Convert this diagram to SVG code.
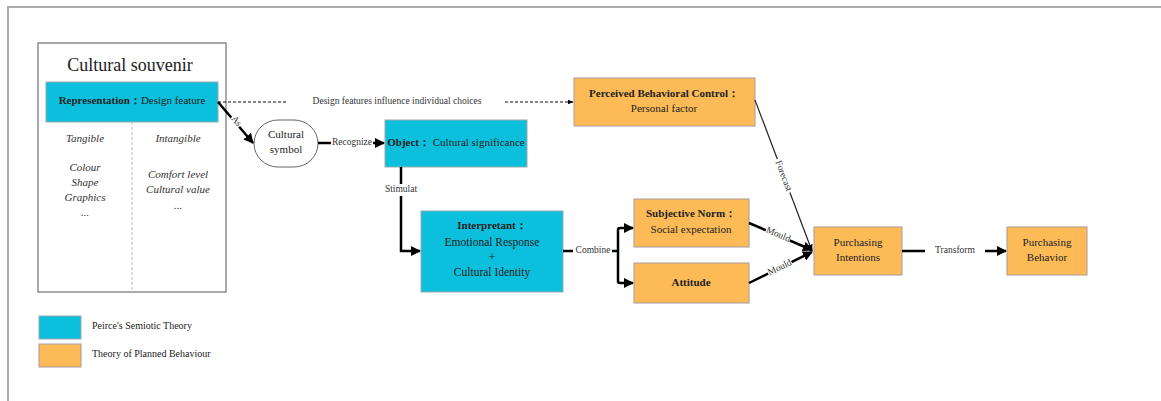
<svg xmlns="http://www.w3.org/2000/svg" width="1161" height="401" viewBox="0 0 1161 401">
<style>
text{font-family:"Liberation Serif","Times New Roman",serif;fill:#222;}
.t{font-size:11px;text-anchor:middle;dominant-baseline:middle;}
.b{font-weight:bold;}
.i{font-style:italic;font-size:11px;text-anchor:middle;dominant-baseline:middle;fill:#333;}
.lbl{font-size:9.5px;text-anchor:middle;dominant-baseline:middle;fill:#333;}
.cy{fill:#0BBFDD;stroke:#9aa;stroke-width:1;}
.or{fill:#FDBB58;stroke:#a99;stroke-width:1;}
.thick{stroke:#000;stroke-width:2.5;fill:none;}
.thin{stroke:#222;stroke-width:1.2;fill:none;}
.dash{stroke:#111;stroke-width:1;stroke-dasharray:3,2;fill:none;}
.bg{fill:#fff;}
</style>
<defs>
<marker id="ah" viewBox="0 0 10 10" refX="9" refY="5" markerWidth="4" markerHeight="4" orient="auto" markerUnits="strokeWidth">
<path d="M0,0 L10,5 L0,10 z" fill="#000"/>
</marker>
<marker id="ahs" viewBox="0 0 10 10" refX="9" refY="5" markerWidth="6" markerHeight="6" orient="auto" markerUnits="strokeWidth">
<path d="M0,1 L10,5 L0,9 z" fill="#000"/>
</marker>
</defs>
<rect width="1161" height="401" fill="#fff"/>
<path d="M8,401 V7 H1161" stroke="#aaa" stroke-width="2" fill="none"/>

<g id="souvenir">
<rect x="38" y="43" width="188" height="249" fill="#fff" stroke="#555" stroke-width="1"/>
<text x="130" y="67" style="font-size:18px;text-anchor:middle;dominant-baseline:middle;">Cultural souvenir</text>
<line x1="132" y1="122" x2="132" y2="292" stroke="#bbb" stroke-width="1" stroke-dasharray="3,2"/>
<text class="i" x="85" y="139">Tangible</text>
<text class="i" x="85" y="168">Colour</text>
<text class="i" x="85" y="183">Shape</text>
<text class="i" x="85" y="198">Graphics</text>
<text class="i" x="85" y="213">...</text>
<text class="i" x="178" y="139">Intangible</text>
<text class="i" x="178" y="175">Comfort level</text>
<text class="i" x="178" y="190">Cultural value</text>
<text class="i" x="178" y="206">...</text>
</g>
<g id="representation">
<rect class="cy" x="46" y="82" width="172" height="40"/>
<text class="t" x="132" y="101"><tspan class="b">Representation：</tspan>Design feature</text>
</g>
<g id="symbol">
<rect x="254" y="120" width="64" height="47" rx="24" ry="23.5" fill="#fff" stroke="#666" stroke-width="1"/>
<text class="t" x="286" y="135">Cultural</text>
<text class="t" x="286" y="150">symbol</text>
</g>
<g id="object">
<rect class="cy" x="385" y="120" width="142" height="47"/>
<text class="t" x="456" y="143"><tspan class="b">Object：</tspan> Cultural significance</text>
</g>
<g id="interpretant">
<rect class="cy" x="421" y="211" width="142" height="81"/>
<text class="t b" x="492" y="226">Interpretant：</text>
<text class="t" x="492" y="243" style="font-size:11.5px">Emotional Response</text>
<text class="t" x="492" y="258" style="font-size:11.5px">+</text>
<text class="t" x="492" y="273" style="font-size:11.5px">Cultural Identity</text>
</g>
<g id="pbc">
<rect class="or" x="574" y="78" width="181" height="48"/>
<text class="t b" x="664" y="94">Perceived Behavioral Control：</text>
<text class="t" x="664" y="109">Personal factor</text>
</g>
<g id="norm">
<rect class="or" x="634" y="199" width="115" height="48"/>
<text class="t b" x="691" y="214">Subjective Norm：</text>
<text class="t" x="691" y="230">Social expectation</text>
</g>
<g id="attitude">
<rect class="or" x="634" y="263" width="115" height="40"/>
<text class="t b" x="691" y="283">Attitude</text>
</g>
<g id="intentions">
<rect class="or" x="814" y="227" width="88" height="48"/>
<text class="t" x="858" y="243">Purchasing</text>
<text class="t" x="858" y="258">Intentions</text>
</g>
<g id="behavior">
<rect class="or" x="1007" y="227" width="80" height="48"/>
<text class="t" x="1047" y="243">Purchasing</text>
<text class="t" x="1047" y="258">Behavior</text>
</g>

<g id="connectors">
<line class="dash" x1="218" y1="102" x2="288" y2="102"/>
<text class="lbl" x="397" y="102">Design features influence individual choices</text>
<line class="dash" x1="505" y1="102" x2="573" y2="102" marker-end="url(#ahs)"/>
<line class="thick" x1="218" y1="102" x2="253" y2="143" marker-end="url(#ah)"/>
<rect x="230" y="117" width="12" height="9" class="bg" transform="rotate(49.5,236,121.5)"/>
<text class="lbl" transform="translate(236,121.5) rotate(49.5)">As</text>
<line class="thick" x1="318" y1="143" x2="331" y2="143"/>
<text class="lbl" x="352" y="143">Recognize</text>
<line class="thick" x1="373" y1="143" x2="384" y2="143" marker-end="url(#ah)"/>
<line class="thick" x1="401" y1="167" x2="401" y2="184"/>
<text class="lbl" x="401" y="190">Stimulat</text>
<path class="thick" d="M401,196 V251 H420" marker-end="url(#ah)"/>
<line class="thick" x1="563" y1="251" x2="573" y2="251"/>
<text class="lbl" x="593" y="251">Combine</text>
<line class="thick" x1="612" y1="251" x2="618" y2="251"/>
<path class="thick" d="M618,251 V230 Q618,228 620,228 H633" marker-end="url(#ah)"/>
<path class="thick" d="M618,251 V281 Q618,283 620,283 H633" marker-end="url(#ah)"/>
<line class="thin" x1="755" y1="100" x2="812" y2="251" marker-end="url(#ahs)"/>
<rect x="765" y="171" width="36" height="10" class="bg" transform="rotate(69.4,783,176)"/>
<text class="lbl" transform="translate(783,176) rotate(69.4)">Forecast</text>
<line class="thick" x1="749" y1="223" x2="812" y2="250" marker-end="url(#ah)"/>
<rect x="765" y="230" width="26" height="10" class="bg" transform="rotate(23.2,778,235)"/>
<text class="lbl" transform="translate(778,235) rotate(23.2)">Mould</text>
<line class="thick" x1="749" y1="283" x2="812" y2="252" marker-end="url(#ah)"/>
<rect x="767" y="263" width="26" height="10" class="bg" transform="rotate(-26,780,268)"/>
<text class="lbl" transform="translate(780,268) rotate(-26)">Mould</text>
<line class="thick" x1="902" y1="251" x2="925" y2="251"/>
<text class="lbl" x="955" y="251">Transform</text>
<line class="thick" x1="985" y1="251" x2="1006" y2="251" marker-end="url(#ah)"/>
</g>

<g id="legend">
<rect class="cy" x="39" y="316" width="42" height="23"/>
<text x="92" y="327" style="font-size:10px;dominant-baseline:middle;">Peirce's Semiotic Theory</text>
<rect class="or" x="39" y="344" width="42" height="23"/>
<text x="92" y="355" style="font-size:10px;dominant-baseline:middle;">Theory of Planned Behaviour</text>
</g>
</svg>
